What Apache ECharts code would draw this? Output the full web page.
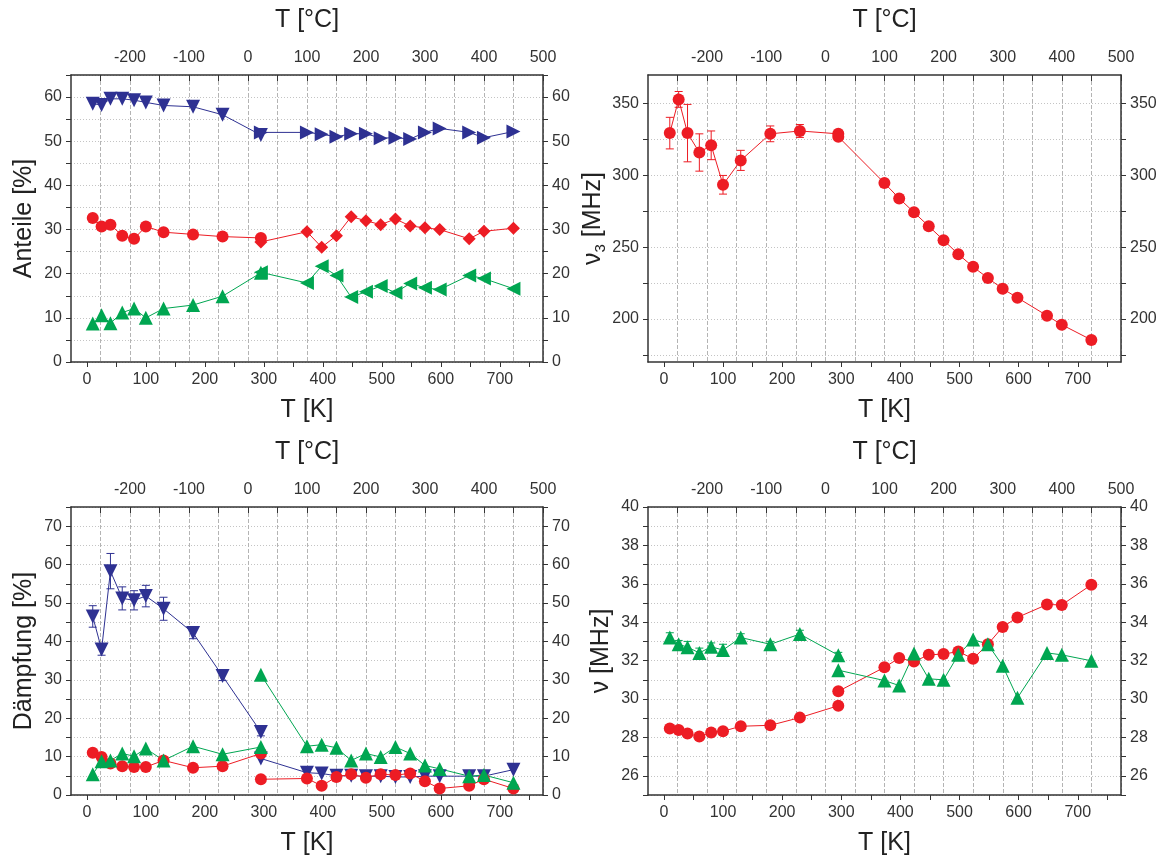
<!DOCTYPE html>
<html>
<head>
<meta charset="utf-8">
<script src="https://cdn.jsdelivr.net/npm/echarts@6/dist/echarts.min.js"></script>
<style>
  html, body { margin: 0; padding: 0; background: #fff; }
  #main { width: 1163px; height: 859px; }
</style>
</head>
<body>
<div id="main"></div>
<script>
// Temperaturen (K) der beiden Messreihen
const tLow = [10, 25, 40, 60, 80, 100, 130, 180, 230, 295];
const tHigh = [295, 373, 398, 423, 448, 473, 498, 523, 548, 573, 598, 648, 673, 723];

// Anteile [%]
const anteilBlauLow = [58.5, 58.2, 59.6, 59.6, 59.3, 58.8, 58.1, 57.8, 56.0, 51.4];
const anteilBlauHigh = [52.0, 52.0, 51.6, 51.0, 51.7, 51.7, 50.7, 50.8, 50.5, 52.0, 52.9, 52.0, 50.8, 52.2];
const anteilRotLow = [32.6, 30.7, 31.1, 28.6, 27.9, 30.7, 29.4, 28.9, 28.4, 28.1];
const anteilRotHigh = [27.2, 29.5, 26.0, 28.6, 32.9, 32.0, 31.1, 32.4, 30.8, 30.4, 30.0, 27.9, 29.6, 30.3];
const anteilGruenLow = [8.7, 10.6, 8.8, 11.2, 12.1, 10.0, 12.1, 12.9, 14.9, 20.2];
const anteilGruenHigh = [20.3, 17.9, 21.7, 19.6, 14.7, 15.9, 17.2, 15.7, 17.8, 16.8, 16.4, 19.6, 18.9, 16.6];

// nu3 [MHz]
const nu3Low = [329.5, 353, 329.5, 316, 321, 293.5, 310.5, 329, 331, 329];
const nu3LowErr = [11, 5.5, 20, 13, 10, 6.5, 7, 5.5, 4.5, 2];
const nu3High = [327, 294.7, 284, 274.3, 264.6, 254.9, 245.1, 236.3, 228.5, 221, 214.8, 202.3, 196, 185.4];

// Dämpfung [%]
const daempBlauLow = [46.5, 37.9, 58.3, 51.2, 50.7, 51.8, 48.5, 42.2, 31.0, 16.4];
const daempBlauLowErr = [2.8, 1.5, 4.6, 3.0, 2.5, 2.8, 3.0, 1.5, 1.2, 1.0];
const daempBlauHigh = [9.5, 5.8, 5.6, 5.0, 5.0, 4.9, 4.9, 4.7, 4.7, 4.9, 4.9, 4.9, 4.9, 6.6];
const daempRotLow = [11.0, 9.9, 8.2, 7.5, 7.3, 7.3, 9.0, 7.1, 7.5, 10.8];
const daempRotHigh = [4.1, 4.3, 2.4, 4.7, 5.4, 4.5, 5.4, 5.2, 5.6, 3.6, 1.7, 2.4, 4.1, 1.7];
const daempGruenLow = [5.4, 8.8, 9.0, 10.8, 10.1, 12.1, 9.0, 12.7, 10.6, 12.5];
const daempGruenHigh = [31.3, 12.7, 13.1, 12.3, 9.0, 10.8, 9.9, 12.5, 10.8, 7.7, 6.8, 4.9, 5.2, 3.2];

// nu [MHz]
const nuRotLow = [28.46, 28.38, 28.2, 28.05, 28.26, 28.32, 28.58, 28.63, 29.03, 29.65];
const nuRotHigh = [30.4, 31.65, 32.13, 31.95, 32.3, 32.34, 32.47, 32.1, 32.85, 33.75, 34.25, 34.92, 34.9, 35.95];
const nuGruenLow = [33.2, 32.85, 32.7, 32.4, 32.72, 32.55, 33.2, 32.85, 33.38, 32.28];
const nuGruenLowErr = [0.25, 0.2, 0.3, 0.25, 0.2, 0.3, 0.2, 0.15, 0.2, 0.15];
const nuGruenHigh = [31.5, 30.96, 30.7, 32.37, 31.05, 31.0, 32.3, 33.1, 32.85, 31.73, 30.06, 32.4, 32.3, 31.99];

// Achsenbeschriftungen
const kLabels = [0, 100, 200, 300, 400, 500, 600, 700];
const kTicks = [0, 50, 100, 150, 200, 250, 300, 350, 400, 450, 500, 550, 600, 650, 700, 750];
const cLabels = [-200, -100, 0, 100, 200, 300, 400, 500];
const cTicks = [-250, -200, -150, -100, -50, 0, 50, 100, 150, 200, 250, 300, 350, 400, 450, 500];
const anteilLabels = [0, 10, 20, 30, 40, 50, 60];
const anteilTicks = [0, 5, 10, 15, 20, 25, 30, 35, 40, 45, 50, 55, 60, 65];
const nu3Labels = [200, 250, 300, 350];
const nu3Ticks = [175, 200, 225, 250, 275, 300, 325, 350];
const daempLabels = [0, 10, 20, 30, 40, 50, 60, 70];
const daempTicks = [0, 5, 10, 15, 20, 25, 30, 35, 40, 45, 50, 55, 60, 65, 70, 75];
const nuLabels = [26, 28, 30, 32, 34, 36, 38, 40];
const nuTicks = [25, 26, 27, 28, 29, 30, 31, 32, 33, 34, 35, 36, 37, 38, 39, 40];

const BLUE = '#2e3192', RED = '#ed1c24', GREEN = '#00a651';
const FONT = 'Liberation Sans, Arial, Helvetica, sans-serif';
const DOWN = 'path://M0,0L10,0L5,9Z';
const UP = 'path://M5,0L10,9L0,9Z';
const RIGHT = 'path://M0,0L9,5L0,10Z';
const LEFT = 'path://M9,0L0,5L9,10Z';
const SIZES = { circle: 12, diamond: 13 };

const axisLine = { onZero: false, lineStyle: { color: '#333', width: 1.5 } };
const labelStyle = { fontSize: 16, color: '#333', fontFamily: FONT };
const nameStyle = { fontSize: 25, color: '#222', fontFamily: FONT,
  rich: { s: { fontSize: 15, color: '#222', fontFamily: FONT, padding: [14, 0, 0, 0] } } };

function kAxis(g) {
  return {
    type: 'value', gridIndex: g, position: 'bottom', min: -26.85, max: 773.15,
    name: 'T [K]', nameLocation: 'middle', nameGap: 36, nameTextStyle: nameStyle,
    axisLine, axisTick: { customValues: kTicks, length: 5, lineStyle: { color: '#333' } },
    axisLabel: Object.assign({ customValues: kLabels, margin: 10 }, labelStyle),
    splitLine: { show: false }
  };
}
function cAxis(g) {
  return {
    type: 'value', gridIndex: g, position: 'top', min: -300, max: 500,
    name: 'T [°C]', nameLocation: 'middle', nameGap: 42, nameTextStyle: nameStyle,
    axisLine, axisTick: { customValues: cTicks, inside: true, length: 6, lineStyle: { color: '#333' } },
    axisLabel: Object.assign({ customValues: cLabels, margin: 9 }, labelStyle),
    splitLine: { show: true, lineStyle: { color: '#b4b4b4', type: [4, 2], width: 1 } }
  };
}
function yAxes(g, min, max, labels, ticks, name, gap) {
  const base = {
    type: 'value', gridIndex: g, min, max, axisLine,
    axisTick: { customValues: ticks, length: 5, lineStyle: { color: '#333' } },
    axisLabel: Object.assign({ customValues: labels, margin: 9 }, labelStyle)
  };
  return [
    Object.assign({}, base, {
      position: 'left', name, nameLocation: 'middle', nameGap: gap, nameRotate: 90,
      nameTextStyle: nameStyle,
      splitLine: { show: true, lineStyle: { color: '#c4c4c4', type: [1, 2], width: 1 } }
    }),
    Object.assign({}, base, { position: 'right', splitLine: { show: false } })
  ];
}

function pairs(xs, ys) { return xs.map((x, i) => [x, ys[i]]); }
function errs(xs, ys, es) { return xs.map((x, i) => [x, ys[i] - es[i], ys[i] + es[i]]); }

function line(g, xs, ys, color, symbol) {
  return {
    type: 'line', xAxisIndex: g * 2, yAxisIndex: g * 2, data: pairs(xs, ys),
    symbol, symbolSize: SIZES[symbol] || 14, showSymbol: true, z: 3,
    itemStyle: { color }, lineStyle: { color, width: 1 }, animation: false
  };
}
function errBars(g, xs, ys, es, color) {
  return {
    type: 'custom', xAxisIndex: g * 2, yAxisIndex: g * 2, data: errs(xs, ys, es),
    encode: { x: 0, y: [1, 2] }, z: 2, itemStyle: { color }, animation: false,
    renderItem: function (params, api) {
      const x = api.value(0);
      const lo = api.coord([x, api.value(1)]);
      const hi = api.coord([x, api.value(2)]);
      const w = 4;
      const style = { stroke: color, lineWidth: 1 };
      return {
        type: 'group', children: [
          { type: 'line', shape: { x1: lo[0], y1: lo[1], x2: hi[0], y2: hi[1] }, style },
          { type: 'line', shape: { x1: lo[0] - w, y1: lo[1], x2: lo[0] + w, y2: lo[1] }, style },
          { type: 'line', shape: { x1: hi[0] - w, y1: hi[1], x2: hi[0] + w, y2: hi[1] }, style }
        ]
      };
    }
  };
}

const chart = echarts.init(document.getElementById('main'));

const xAxis = [];
[0, 1, 2, 3].forEach(g => { xAxis.push(kAxis(g)); xAxis.push(cAxis(g)); });

const yAxis = [].concat(
  yAxes(0, 0, 65, anteilLabels, anteilTicks, 'Anteile [%]', 34),
  yAxes(1, 170, 370, nu3Labels, nu3Ticks, '{a|ν}{s|3}{a| [MHz]}', 40),
  yAxes(2, 0, 75, daempLabels, daempTicks, 'Dämpfung [%]', 34),
  yAxes(3, 25, 40, nuLabels, nuTicks, 'ν [MHz]', 34)
);
yAxis[2].nameTextStyle = Object.assign({}, nameStyle, {
  rich: {
    a: { fontSize: 25, color: '#222', fontFamily: FONT },
    s: { fontSize: 15, color: '#222', fontFamily: FONT, padding: [14, 0, 0, 0] }
  }
});

chart.setOption({
  backgroundColor: '#fff',
  animation: false,
  textStyle: { fontFamily: FONT },
  grid: [
    { left: 71, top: 75, width: 472, height: 287 },
    { left: 648, top: 75, width: 473, height: 287 },
    { left: 71, top: 507, width: 472, height: 288 },
    { left: 648, top: 507, width: 473, height: 288 }
  ],
  xAxis,
  yAxis,
  series: [
    // Anteile
    line(0, tLow, anteilBlauLow, BLUE, DOWN),
    line(0, tHigh, anteilBlauHigh, BLUE, RIGHT),
    line(0, tLow, anteilRotLow, RED, 'circle'),
    line(0, tHigh, anteilRotHigh, RED, 'diamond'),
    line(0, tLow, anteilGruenLow, GREEN, UP),
    line(0, tHigh, anteilGruenHigh, GREEN, LEFT),
    // nu3
    errBars(1, tLow, nu3Low, nu3LowErr, RED),
    line(1, tLow, nu3Low, RED, 'circle'),
    line(1, tHigh, nu3High, RED, 'circle'),
    // Dämpfung
    errBars(2, tLow, daempBlauLow, daempBlauLowErr, BLUE),
    line(2, tLow, daempBlauLow, BLUE, DOWN),
    line(2, tHigh, daempBlauHigh, BLUE, DOWN),
    line(2, tLow, daempRotLow, RED, 'circle'),
    line(2, tHigh, daempRotHigh, RED, 'circle'),
    line(2, tLow, daempGruenLow, GREEN, UP),
    line(2, tHigh, daempGruenHigh, GREEN, UP),
    // nu
    line(3, tLow, nuRotLow, RED, 'circle'),
    line(3, tHigh, nuRotHigh, RED, 'circle'),
    errBars(3, tLow, nuGruenLow, nuGruenLowErr, GREEN),
    line(3, tLow, nuGruenLow, GREEN, UP),
    line(3, tHigh, nuGruenHigh, GREEN, UP)
  ]
});
</script>
</body>
</html>
